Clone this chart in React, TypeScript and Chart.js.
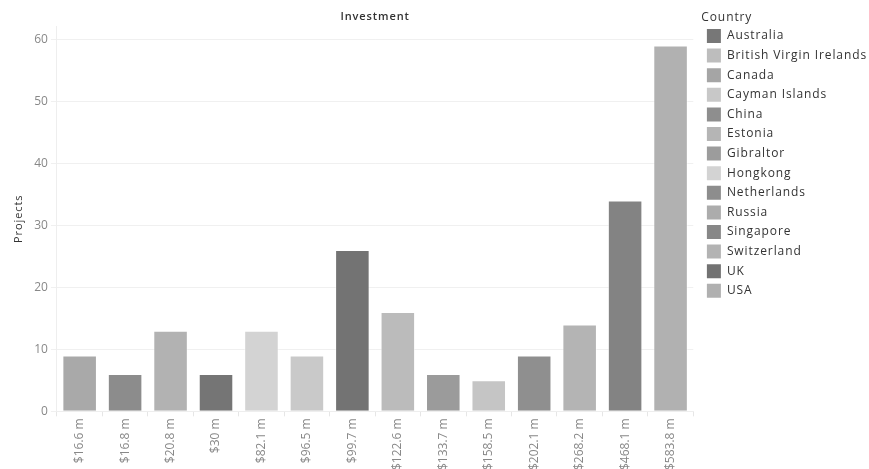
import React, { useEffect, useRef } from "react";
import { Chart, registerables } from "chart.js";

Chart.register(...registerables);

const investments = ["$16.6 m", "$16.8 m", "$20.8 m", "$30 m", "$82.1 m", "$96.5 m", "$99.7 m", "$122.6 m", "$133.7 m", "$158.5 m", "$202.1 m", "$268.2 m", "$468.1 m", "$583.8 m"];
const projects = [9, 6, 13, 6, 13, 9, 26, 16, 6, 5, 9, 14, 34, 59];
const barColors = ["#a9a9a9", "#8c8c8c", "#b2b2b2", "#757575", "#d3d3d3", "#c9c9c9", "#737373", "#bbbbbb", "#9b9b9b", "#c5c5c5", "#8f8f8f", "#b4b4b4", "#838383", "#b1b1b1"];
const countries = ["Australia", "British Virgin Irelands", "Canada", "Cayman Islands", "China", "Estonia", "Gibraltor", "Hongkong", "Netherlands", "Russia", "Singapore", "Switzerland", "UK", "USA"];
const countryColors = ["#777777", "#bdbdbd", "#a5a5a5", "#c8c8c8", "#8e8e8e", "#b5b5b5", "#9c9c9c", "#d3d3d3", "#8d8d8d", "#acacac", "#878787", "#b3b3b3", "#727272", "#b0b0b0"];
const yTicks = [0, 10, 20, 30, 40, 50, 60];

const FONT = "'Open Sans', 'Noto Sans', sans-serif";
const SPACING = "0.9px";

// Wider letter spacing for the title, legend and axis title (ticks stay unspaced)
const spacingPlugin = {
  id: "letterSpacing",
  beforeLayout(chart: any) {
    const wrap = (obj: any, name: string) => {
      if (!obj || obj["__wrapped_" + name]) return;
      const orig = obj[name];
      obj[name] = function (...args: any[]) {
        const ctx = chart.ctx as any;
        const prev = ctx.letterSpacing;
        ctx.letterSpacing = SPACING;
        try {
          return orig.apply(this, args);
        } finally {
          ctx.letterSpacing = prev || "0px";
        }
      };
      obj["__wrapped_" + name] = true;
    };
    wrap(chart.legend, "fit");
    wrap(chart.legend, "draw");
    wrap(chart.titleBlock, "draw");
    if (chart.scales && chart.scales.y) wrap(chart.scales.y, "drawTitle");
  },
};

export default function App() {
  const ref = useRef<HTMLCanvasElement | null>(null);
  useEffect(() => {
    document.body.style.margin = "0";
    const canvas = ref.current;
    if (!canvas) return;
    const chart = new Chart(canvas, {
      type: "bar",
      plugins: [spacingPlugin],
      data: {
        labels: investments,
        datasets: [
          {
            label: "Projects",
            data: projects,
            backgroundColor: barColors,
            borderColor: "rgba(255,255,255,0.45)",
            borderWidth: 1,
            categoryPercentage: 1,
            barPercentage: 0.76,
          },
        ],
      },
      options: {
        animation: false,
        responsive: false,
        maintainAspectRatio: false,
        layout: { padding: { top: 6, right: -8, bottom: -3, left: 12 } },
        plugins: {
          title: {
            display: true,
            text: "Investment",
            fullSize: false,
            color: "#333",
            font: { family: FONT, size: 11, weight: "600" },
            padding: { top: 4, bottom: 3 },
          },
          legend: {
            display: true,
            position: "right",
            align: "start",
            maxWidth: 240,
            title: {
              display: true,
              text: "Country",
              position: "start",
              color: "#333",
              font: { family: FONT, size: 12 },
              padding: { top: 6, bottom: -3 },
            },
            labels: {
              boxWidth: 14,
              boxHeight: 14,
              padding: 5.6,
              color: "#555",
              font: { family: FONT, size: 12 },
              generateLabels: () =>
                countries.map((c, i) => ({
                  text: c,
                  fillStyle: countryColors[i],
                  strokeStyle: countryColors[i],
                  lineWidth: 0,
                  hidden: false,
                  index: i,
                  datasetIndex: 0,
                })),
            },
          },
          tooltip: { enabled: false },
        },
        scales: {
          x: {
            offset: true,
            grid: {
              offset: true,
              drawOnChartArea: false,
              color: "#e6e6e6",
              tickLength: 5,
            },
            border: { display: true, color: "#eeeeee" },
            ticks: {
              minRotation: 90,
              maxRotation: 90,
              autoSkip: false,
              color: "#888",
              padding: 2,
              font: { family: FONT, size: 12 },
            },
          },
          y: {
            min: 0,
            max: 62.1,
            afterBuildTicks: (axis: any) => {
              axis.ticks = yTicks.map((v) => ({ value: v }));
            },
            grid: { color: "#f0f0f0", tickLength: 6 },
            border: { display: true, color: "#eeeeee" },
            ticks: {
              color: "#888",
              padding: 3,
              font: { family: FONT, size: 12 },
            },
            title: {
              display: true,
              text: "Projects",
              color: "#333",
              font: { family: FONT, size: 11 },
              padding: { top: 0, bottom: 6 },
            },
          },
          gap: {
            type: "linear",
            position: "right",
            display: true,
            grid: { display: false },
            border: { display: false },
            ticks: { display: false },
            afterFit: (s: any) => {
              s.width = 8;
            },
          },
        },
      },
    });
    return () => chart.destroy();
  }, []);
  return (
    <div style={{ position: "absolute", left: 0, top: 0, width: 869, height: 469, background: "#fff" }}>
      <canvas ref={ref} width={869} height={469} style={{ width: 869, height: 469, display: "block" }} />
    </div>
  );
}
